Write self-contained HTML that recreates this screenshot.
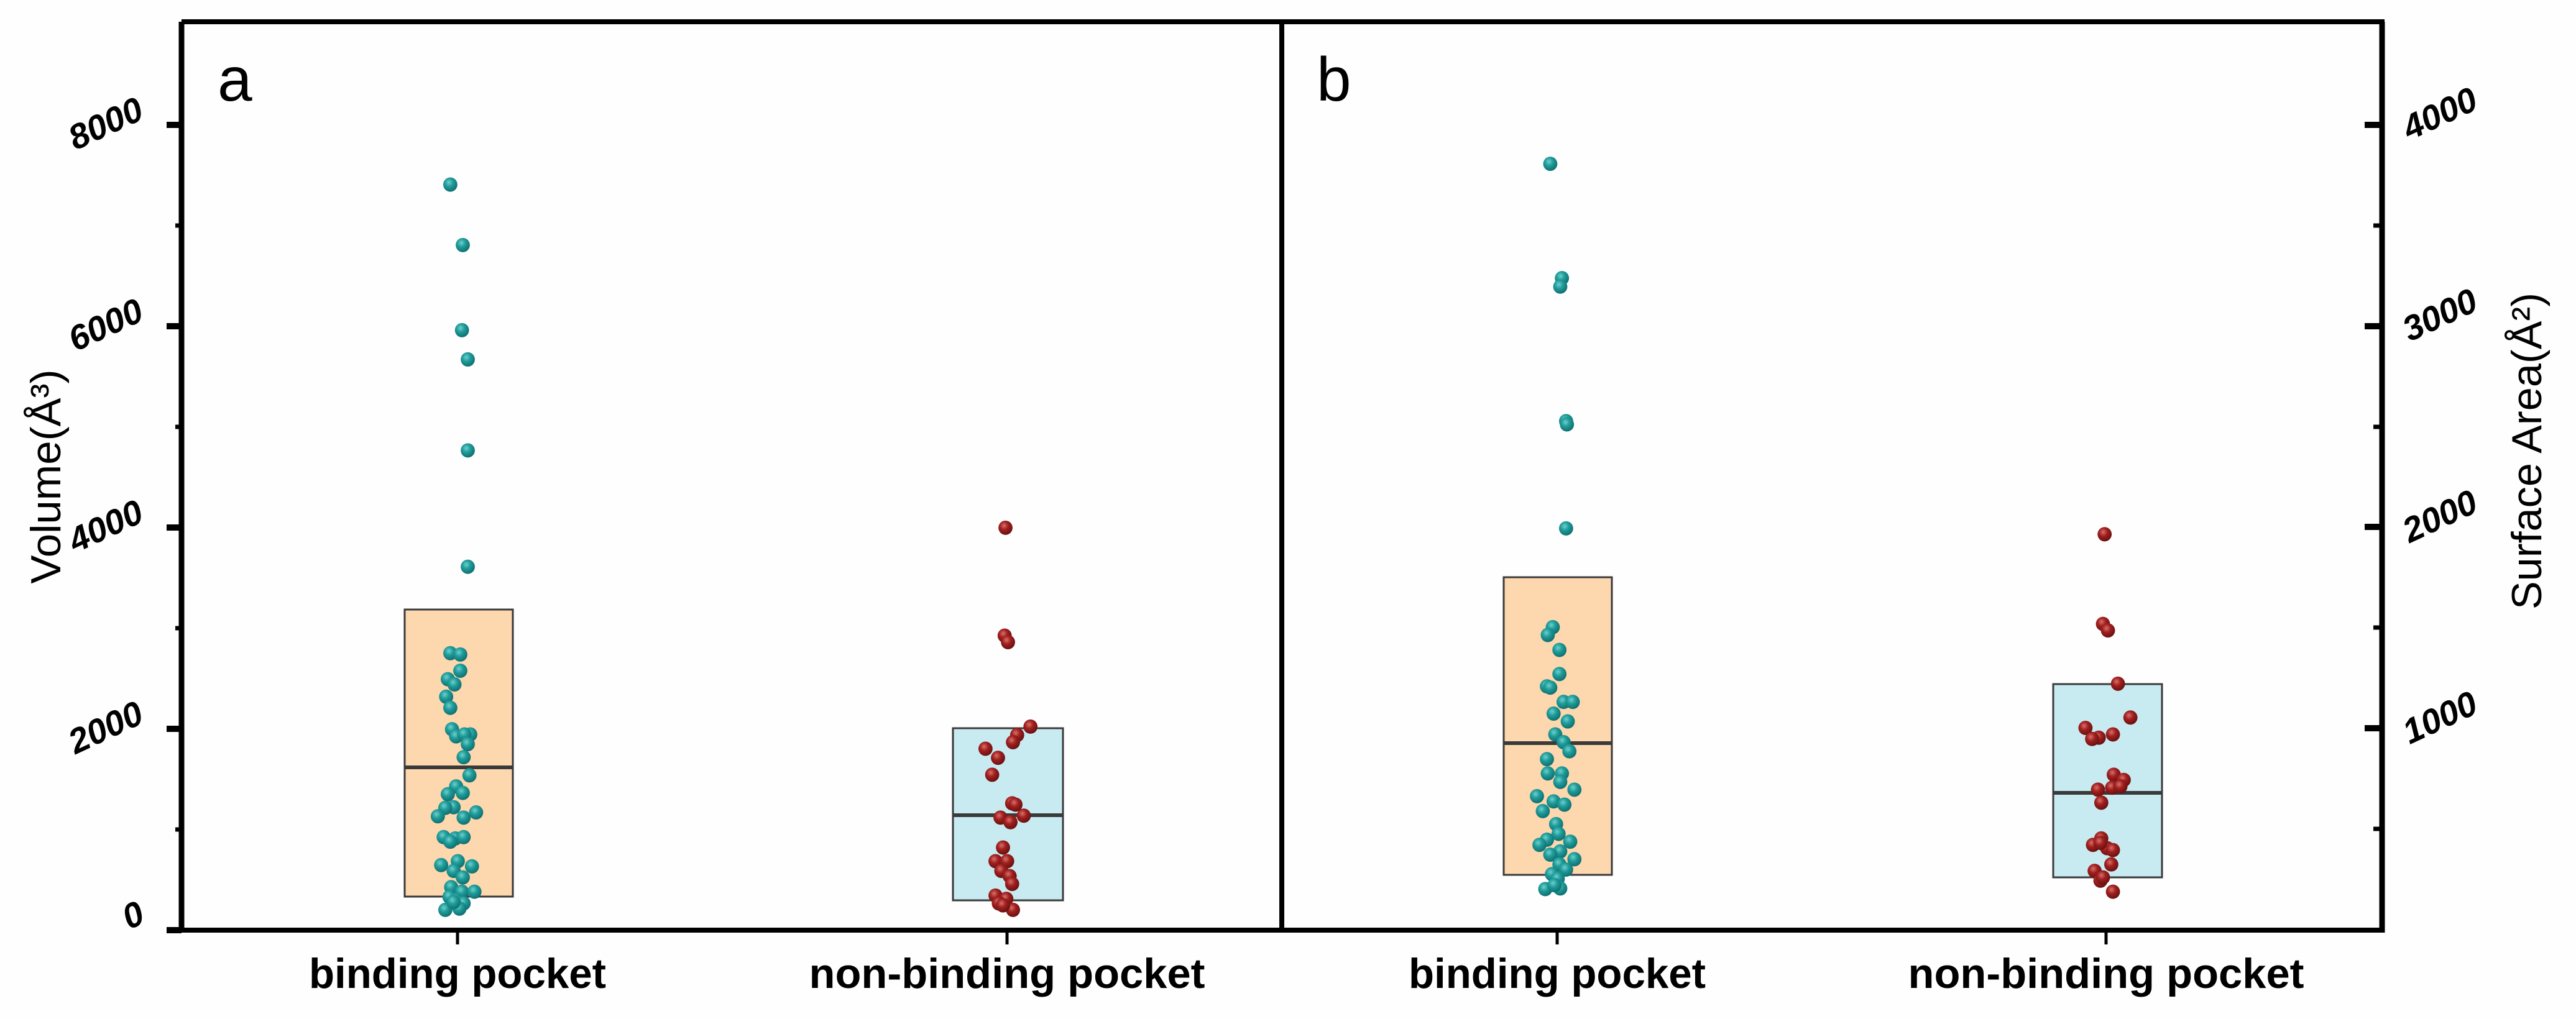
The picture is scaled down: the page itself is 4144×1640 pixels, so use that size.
<!DOCTYPE html>
<html><head><meta charset="utf-8"><style>
html,body{margin:0;padding:0;background:#fff}
svg{display:block}
text{font-family:"Liberation Sans",Arial,sans-serif}
</style></head><body>
<svg width="4144" height="1640" viewBox="0 0 4144 1640" xmlns="http://www.w3.org/2000/svg">
<defs>
<radialGradient id="gt" cx="0.4" cy="0.35" r="0.65">
<stop offset="0" stop-color="#6fd0cc"/><stop offset="0.45" stop-color="#1f9c9a"/><stop offset="1" stop-color="#0f6f70"/></radialGradient>
<radialGradient id="gr" cx="0.4" cy="0.35" r="0.65">
<stop offset="0" stop-color="#d9706c"/><stop offset="0.45" stop-color="#a0201f"/><stop offset="1" stop-color="#6a1010"/></radialGradient>
</defs>
<rect width="4144" height="1640" fill="#fefefe"/>

<!-- boxes -->
<rect x="651" y="981" width="174" height="462" fill="#fdd7ad" stroke="#3a3a3a" stroke-width="3"/>
<line x1="651" y1="1235" x2="825" y2="1235" stroke="#3a3a3a" stroke-width="6"/>
<rect x="1533" y="1172" width="177" height="277" fill="#c8ebf1" stroke="#3a3a3a" stroke-width="3"/>
<line x1="1533" y1="1312" x2="1710" y2="1312" stroke="#3a3a3a" stroke-width="6"/>
<rect x="2419" y="929" width="174" height="479" fill="#fdd7ad" stroke="#3a3a3a" stroke-width="3"/>
<line x1="2419" y1="1196" x2="2593" y2="1196" stroke="#3a3a3a" stroke-width="6"/>
<rect x="3303" y="1101" width="175" height="311" fill="#c8ebf1" stroke="#3a3a3a" stroke-width="3"/>
<line x1="3303" y1="1276" x2="3478" y2="1276" stroke="#3a3a3a" stroke-width="6"/>

<!-- points panel a -->
<g transform="scale(1.339,1.046)">
<g fill="url(#gt)">
<ellipse cx="541" cy="284" rx="8.5" ry="11"/><ellipse cx="556" cy="377" rx="8.5" ry="11"/><ellipse cx="555" cy="508" rx="8.5" ry="11"/><ellipse cx="562" cy="553" rx="8.5" ry="11"/><ellipse cx="562" cy="693" rx="8.5" ry="11"/><ellipse cx="562" cy="872" rx="8.5" ry="11"/>
<ellipse cx="541" cy="1005" rx="8.5" ry="11"/><ellipse cx="553" cy="1007" rx="8.5" ry="11"/><ellipse cx="553" cy="1032" rx="8.5" ry="11"/><ellipse cx="538" cy="1045" rx="8.5" ry="11"/><ellipse cx="546" cy="1053" rx="8.5" ry="11"/><ellipse cx="536" cy="1072" rx="8.5" ry="11"/><ellipse cx="541" cy="1089" rx="8.5" ry="11"/><ellipse cx="543" cy="1122" rx="8.5" ry="11"/><ellipse cx="548" cy="1133" rx="8.5" ry="11"/><ellipse cx="565" cy="1130" rx="8.5" ry="11"/><ellipse cx="558" cy="1130" rx="8.5" ry="11"/><ellipse cx="562" cy="1145" rx="8.5" ry="11"/><ellipse cx="557" cy="1165" rx="8.5" ry="11"/><ellipse cx="564" cy="1193" rx="8.5" ry="11"/><ellipse cx="548" cy="1210" rx="8.5" ry="11"/><ellipse cx="538" cy="1222" rx="8.5" ry="11"/><ellipse cx="556" cy="1220" rx="8.5" ry="11"/><ellipse cx="545" cy="1242" rx="8.5" ry="11"/><ellipse cx="535" cy="1243" rx="8.5" ry="11"/><ellipse cx="526" cy="1256" rx="8.5" ry="11"/><ellipse cx="557" cy="1258" rx="8.5" ry="11"/><ellipse cx="572" cy="1250" rx="8.5" ry="11"/><ellipse cx="533" cy="1288" rx="8.5" ry="11"/><ellipse cx="547" cy="1290" rx="8.5" ry="11"/><ellipse cx="557" cy="1288" rx="8.5" ry="11"/><ellipse cx="541" cy="1295" rx="8.5" ry="11"/><ellipse cx="530" cy="1331" rx="8.5" ry="11"/><ellipse cx="550" cy="1325" rx="8.5" ry="11"/><ellipse cx="567" cy="1333" rx="8.5" ry="11"/><ellipse cx="545" cy="1340" rx="8.5" ry="11"/><ellipse cx="556" cy="1350" rx="8.5" ry="11"/><ellipse cx="542" cy="1365" rx="8.5" ry="11"/><ellipse cx="555" cy="1372" rx="8.5" ry="11"/><ellipse cx="570" cy="1372" rx="8.5" ry="11"/><ellipse cx="540" cy="1380" rx="8.5" ry="11"/><ellipse cx="548" cy="1385" rx="8.5" ry="11"/><ellipse cx="557" cy="1390" rx="8.5" ry="11"/><ellipse cx="535" cy="1400" rx="8.5" ry="11"/><ellipse cx="552" cy="1398" rx="8.5" ry="11"/><ellipse cx="545" cy="1388" rx="8.5" ry="11"/>
</g>
<g fill="url(#gr)">
<ellipse cx="1208" cy="812" rx="8.5" ry="11"/><ellipse cx="1207" cy="978" rx="8.5" ry="11"/><ellipse cx="1211" cy="988" rx="8.5" ry="11"/><ellipse cx="1238" cy="1118" rx="8.5" ry="11"/><ellipse cx="1222" cy="1131" rx="8.5" ry="11"/><ellipse cx="1217" cy="1142" rx="8.5" ry="11"/><ellipse cx="1184" cy="1152" rx="8.5" ry="11"/><ellipse cx="1199" cy="1166" rx="8.5" ry="11"/><ellipse cx="1192" cy="1192" rx="8.5" ry="11"/><ellipse cx="1216" cy="1236" rx="8.5" ry="11"/><ellipse cx="1220" cy="1238" rx="8.5" ry="11"/><ellipse cx="1202" cy="1258" rx="8.5" ry="11"/><ellipse cx="1230" cy="1255" rx="8.5" ry="11"/><ellipse cx="1214" cy="1265" rx="8.5" ry="11"/><ellipse cx="1205" cy="1304" rx="8.5" ry="11"/><ellipse cx="1196" cy="1325" rx="8.5" ry="11"/><ellipse cx="1210" cy="1325" rx="8.5" ry="11"/><ellipse cx="1203" cy="1340" rx="8.5" ry="11"/><ellipse cx="1213" cy="1348" rx="8.5" ry="11"/><ellipse cx="1216" cy="1360" rx="8.5" ry="11"/><ellipse cx="1196" cy="1378" rx="8.5" ry="11"/><ellipse cx="1209" cy="1383" rx="8.5" ry="11"/><ellipse cx="1200" cy="1390" rx="8.5" ry="11"/><ellipse cx="1217" cy="1400" rx="8.5" ry="11"/><ellipse cx="1205" cy="1393" rx="8.5" ry="11"/>
</g>
</g>

<!-- points panel b -->
<g transform="translate(2044,0) scale(1.339,1.046)">
<g fill="url(#gt)">
<ellipse cx="336" cy="252" rx="8.5" ry="11"/><ellipse cx="350" cy="428" rx="8.5" ry="11"/><ellipse cx="348" cy="441" rx="8.5" ry="11"/><ellipse cx="355" cy="648" rx="8.5" ry="11"/><ellipse cx="356" cy="653" rx="8.5" ry="11"/><ellipse cx="355" cy="813" rx="8.5" ry="11"/><ellipse cx="339" cy="965" rx="8.5" ry="11"/><ellipse cx="333" cy="977" rx="8.5" ry="11"/><ellipse cx="347" cy="1000" rx="8.5" ry="11"/><ellipse cx="347" cy="1037" rx="8.5" ry="11"/><ellipse cx="332" cy="1056" rx="8.5" ry="11"/><ellipse cx="336" cy="1058" rx="8.5" ry="11"/><ellipse cx="352" cy="1080" rx="8.5" ry="11"/><ellipse cx="363" cy="1080" rx="8.5" ry="11"/><ellipse cx="340" cy="1098" rx="8.5" ry="11"/><ellipse cx="357" cy="1110" rx="8.5" ry="11"/><ellipse cx="342" cy="1130" rx="8.5" ry="11"/><ellipse cx="352" cy="1142" rx="8.5" ry="11"/><ellipse cx="359" cy="1156" rx="8.5" ry="11"/><ellipse cx="332" cy="1168" rx="8.5" ry="11"/><ellipse cx="333" cy="1190" rx="8.5" ry="11"/><ellipse cx="350" cy="1190" rx="8.5" ry="11"/><ellipse cx="348" cy="1203" rx="8.5" ry="11"/><ellipse cx="365" cy="1215" rx="8.5" ry="11"/><ellipse cx="320" cy="1225" rx="8.5" ry="11"/><ellipse cx="340" cy="1233" rx="8.5" ry="11"/><ellipse cx="353" cy="1238" rx="8.5" ry="11"/><ellipse cx="327" cy="1248" rx="8.5" ry="11"/><ellipse cx="343" cy="1268" rx="8.5" ry="11"/><ellipse cx="346" cy="1283" rx="8.5" ry="11"/><ellipse cx="332" cy="1292" rx="8.5" ry="11"/><ellipse cx="323" cy="1300" rx="8.5" ry="11"/><ellipse cx="360" cy="1295" rx="8.5" ry="11"/><ellipse cx="348" cy="1310" rx="8.5" ry="11"/><ellipse cx="336" cy="1315" rx="8.5" ry="11"/><ellipse cx="365" cy="1322" rx="8.5" ry="11"/><ellipse cx="347" cy="1330" rx="8.5" ry="11"/><ellipse cx="355" cy="1338" rx="8.5" ry="11"/><ellipse cx="338" cy="1345" rx="8.5" ry="11"/><ellipse cx="345" cy="1352" rx="8.5" ry="11"/><ellipse cx="330" cy="1368" rx="8.5" ry="11"/><ellipse cx="348" cy="1367" rx="8.5" ry="11"/><ellipse cx="341" cy="1362" rx="8.5" ry="11"/>
</g>
<g fill="url(#gr)">
<ellipse cx="1002" cy="822" rx="8.5" ry="11"/><ellipse cx="1000" cy="960" rx="8.5" ry="11"/><ellipse cx="1006" cy="970" rx="8.5" ry="11"/><ellipse cx="1018" cy="1052" rx="8.5" ry="11"/><ellipse cx="1033" cy="1104" rx="8.5" ry="11"/><ellipse cx="979" cy="1120" rx="8.5" ry="11"/><ellipse cx="1012" cy="1130" rx="8.5" ry="11"/><ellipse cx="995" cy="1135" rx="8.5" ry="11"/><ellipse cx="987" cy="1137" rx="8.5" ry="11"/><ellipse cx="1013" cy="1192" rx="8.5" ry="11"/><ellipse cx="1025" cy="1200" rx="8.5" ry="11"/><ellipse cx="994" cy="1215" rx="8.5" ry="11"/><ellipse cx="1011" cy="1212" rx="8.5" ry="11"/><ellipse cx="1021" cy="1210" rx="8.5" ry="11"/><ellipse cx="998" cy="1235" rx="8.5" ry="11"/><ellipse cx="998" cy="1290" rx="8.5" ry="11"/><ellipse cx="988" cy="1300" rx="8.5" ry="11"/><ellipse cx="1005" cy="1305" rx="8.5" ry="11"/><ellipse cx="1012" cy="1308" rx="8.5" ry="11"/><ellipse cx="997" cy="1297" rx="8.5" ry="11"/><ellipse cx="990" cy="1340" rx="8.5" ry="11"/><ellipse cx="1010" cy="1330" rx="8.5" ry="11"/><ellipse cx="997" cy="1355" rx="8.5" ry="11"/><ellipse cx="1000" cy="1350" rx="8.5" ry="11"/><ellipse cx="1012" cy="1372" rx="8.5" ry="11"/>
</g>
</g>

<!-- axes / frame -->
<g stroke="#000" fill="none">
<line x1="292" y1="35" x2="3836" y2="35" stroke-width="8"/>
<line x1="292" y1="35" x2="292" y2="1501" stroke-width="9"/>
<line x1="2062" y1="35" x2="2062" y2="1501" stroke-width="8"/>
<line x1="3832" y1="35" x2="3832" y2="1501" stroke-width="9"/>
<line x1="268" y1="1497" x2="3836" y2="1497" stroke-width="8"/>
<g stroke-width="10">
<line x1="268" y1="1497" x2="292" y2="1497"/>
<line x1="268" y1="1173" x2="292" y2="1173"/>
<line x1="268" y1="849" x2="292" y2="849"/>
<line x1="268" y1="525" x2="292" y2="525"/>
<line x1="268" y1="201" x2="292" y2="201"/>
</g>
<g stroke-width="7">
<line x1="282" y1="1335" x2="292" y2="1335"/>
<line x1="282" y1="1011" x2="292" y2="1011"/>
<line x1="282" y1="687" x2="292" y2="687"/>
<line x1="282" y1="363" x2="292" y2="363"/>
</g>
<g stroke-width="10">
<line x1="3804" y1="1172" x2="3832" y2="1172"/>
<line x1="3804" y1="848" x2="3832" y2="848"/>
<line x1="3804" y1="525" x2="3832" y2="525"/>
<line x1="3804" y1="201" x2="3832" y2="201"/>
</g>
<g stroke-width="7">
<line x1="3818" y1="1334" x2="3832" y2="1334"/>
<line x1="3818" y1="1010" x2="3832" y2="1010"/>
<line x1="3818" y1="687" x2="3832" y2="687"/>
<line x1="3818" y1="363" x2="3832" y2="363"/>
</g>
<g stroke-width="5">
<line x1="736" y1="1497" x2="736" y2="1520"/>
<line x1="1620" y1="1497" x2="1620" y2="1520"/>
<line x1="2505" y1="1497" x2="2505" y2="1520"/>
<line x1="3388" y1="1497" x2="3388" y2="1520"/>
</g>
</g>

<text x="350" y="162" font-size="100" fill="#000">a</text>
<text x="2118" y="162" font-size="100" fill="#000">b</text>

<g font-size="56" font-weight="bold" font-style="italic" fill="#000" text-anchor="middle">
<text transform="translate(178,216) rotate(-25)">8000</text>
<text transform="translate(178,540) rotate(-25)">6000</text>
<text transform="translate(178,864) rotate(-25)">4000</text>
<text transform="translate(178,1188) rotate(-25)">2000</text>
<text transform="translate(222,1490) rotate(-25)">0</text>
<text transform="translate(3933,200) rotate(-25)">4000</text>
<text transform="translate(3933,524) rotate(-25)">3000</text>
<text transform="translate(3933,848) rotate(-25)">2000</text>
<text transform="translate(3933,1172) rotate(-25)">1000</text>
</g>

<text transform="translate(97,767) rotate(-90)" font-size="68" text-anchor="middle" fill="#000" textLength="345" lengthAdjust="spacingAndGlyphs">Volume(Å³)</text>
<text transform="translate(4088,726) rotate(-90)" font-size="68" text-anchor="middle" fill="#000" textLength="510" lengthAdjust="spacingAndGlyphs">Surface Area(Å²)</text>

<g font-size="68" font-weight="bold" fill="#000" text-anchor="middle">
<text x="736" y="1590" textLength="478" lengthAdjust="spacingAndGlyphs">binding pocket</text>
<text x="1620" y="1590" textLength="637" lengthAdjust="spacingAndGlyphs">non-binding pocket</text>
<text x="2505" y="1590" textLength="478" lengthAdjust="spacingAndGlyphs">binding pocket</text>
<text x="3388" y="1590" textLength="637" lengthAdjust="spacingAndGlyphs">non-binding pocket</text>
</g>
</svg>
</body></html>
